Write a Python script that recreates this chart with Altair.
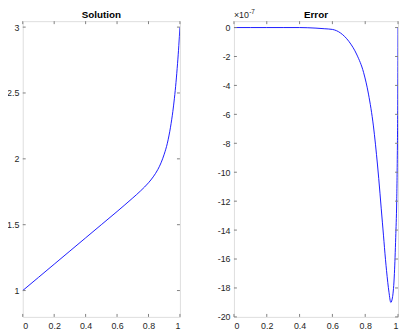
import altair as alt
import pandas as pd

# Solution curve
sol_x = [0, 0.1, 0.2, 0.3, 0.4, 0.5, 0.6, 0.65, 0.7, 0.75, 0.8, 0.83, 0.86, 0.88, 0.9, 0.92, 0.94, 0.955, 0.965, 0.975, 0.985, 0.993, 1.0]
sol_y = [1.0, 1.1, 1.2, 1.3, 1.4, 1.5, 1.6, 1.651, 1.703, 1.757, 1.818, 1.863, 1.92, 1.97, 2.035, 2.118, 2.24, 2.36, 2.46, 2.58, 2.725, 2.86, 3.0]

# Error curve (units of 1e-7)
err_x = [0, 0.1, 0.2, 0.3, 0.4, 0.5, 0.55, 0.6, 0.65, 0.7, 0.75, 0.79, 0.82, 0.85, 0.875, 0.905, 0.93, 0.945, 0.956, 0.967, 0.978, 0.986, 0.992, 0.996, 0.999, 1.0]
err_y = [0, 0, 0, 0, 0, -0.04, -0.08, -0.13, -0.38, -0.95, -1.9, -3.1, -4.6, -6.8, -9.5, -13.5, -16.8, -18.3, -19.0, -18.6, -17.0, -14.5, -12.0, -8.5, -3.5, 0]

x_ticks = [0, 0.2, 0.4, 0.6, 0.8, 1]
sol_ticks = [1, 1.5, 2, 2.5, 3]
err_ticks = [0, -2, -4, -6, -8, -10, -12, -14, -16, -18, -20]

AX = "#808080"
TXT = "#262626"
FONT = "Liberation Sans"
TICK = 3


def panel(xs, ys, yticks, ydom, w, h, title, exponent=False):
    df = pd.DataFrame({"x": xs, "y": ys})
    xsc = alt.Scale(domain=[0, 1], nice=False, zero=False)
    ysc = alt.Scale(domain=ydom, nice=False, zero=False)
    ax_common = dict(title=None, ticks=False, domain=False, grid=False,
                     labelFontSize=9, labelFont=FONT, labelColor=TXT,
                     labelExpr="'' + datum.value")
    xax = alt.Axis(values=x_ticks, labelPadding=5, **ax_common)
    yax = alt.Axis(values=yticks, labelPadding=4, **ax_common)
    line = alt.Chart(df).mark_line(color="#0000ff", strokeWidth=0.9,
                                   interpolate="monotone", clip=True).encode(
        x=alt.X("x:Q", scale=xsc, axis=xax),
        y=alt.Y("y:Q", scale=ysc, axis=yax),
    )
    tx = pd.DataFrame({"x": x_ticks})
    ty = pd.DataFrame({"y": yticks})
    xb = alt.Chart(tx).mark_rule(color=AX, strokeWidth=1).encode(
        x=alt.X("x:Q", scale=xsc, axis=xax), y=alt.value(h), y2=alt.value(h - TICK))
    xt = alt.Chart(tx).mark_rule(color=AX, strokeWidth=1).encode(
        x=alt.X("x:Q", scale=xsc, axis=xax), y=alt.value(0), y2=alt.value(TICK))
    yl = alt.Chart(ty).mark_rule(color=AX, strokeWidth=1).encode(
        y=alt.Y("y:Q", scale=ysc, axis=yax), x=alt.value(0), x2=alt.value(TICK))
    yr = alt.Chart(ty).mark_rule(color=AX, strokeWidth=1).encode(
        y=alt.Y("y:Q", scale=ysc, axis=yax), x=alt.value(w), x2=alt.value(w - TICK))
    ttl = alt.Chart(pd.DataFrame({"s": [title]})).mark_text(
        align="center", baseline="alphabetic", fontSize=10, fontWeight="bold",
        font=FONT, color="black").encode(
        x=alt.value(w / 2), y=alt.value(-3), text="s:N")
    layers = [line, xb, xt, yl, yr, ttl]
    if exponent:
        base = alt.Chart(pd.DataFrame({"s": ["×10"]})).mark_text(
            align="left", baseline="alphabetic", fontSize=9, font=FONT, color=TXT).encode(
            x=alt.value(0), y=alt.value(-3.5), text="s:N")
        sup = alt.Chart(pd.DataFrame({"s": ["-7"]})).mark_text(
            align="left", baseline="alphabetic", fontSize=6.5, font=FONT, color=TXT).encode(
            x=alt.value(15.5), y=alt.value(-7.5), text="s:N")
        layers += [base, sup]
    return alt.layer(*layers).properties(width=w, height=h)


left = panel(sol_x, sol_y, sol_ticks, [0.8, 3.045], 160, 301, "Solution")
right = panel(err_x, err_y, err_ticks, [-20, 0.44], 167, 301, "Error", exponent=True)

chart = alt.hconcat(left, right, spacing=36).properties(
    padding={"left": -3, "top": -2.5, "right": 0, "bottom": 0}
).configure_view(
    stroke=AX, strokeWidth=1
).configure(background="white")

chart.save("out.html", embed_options={"renderer": "svg", "actions": False})
